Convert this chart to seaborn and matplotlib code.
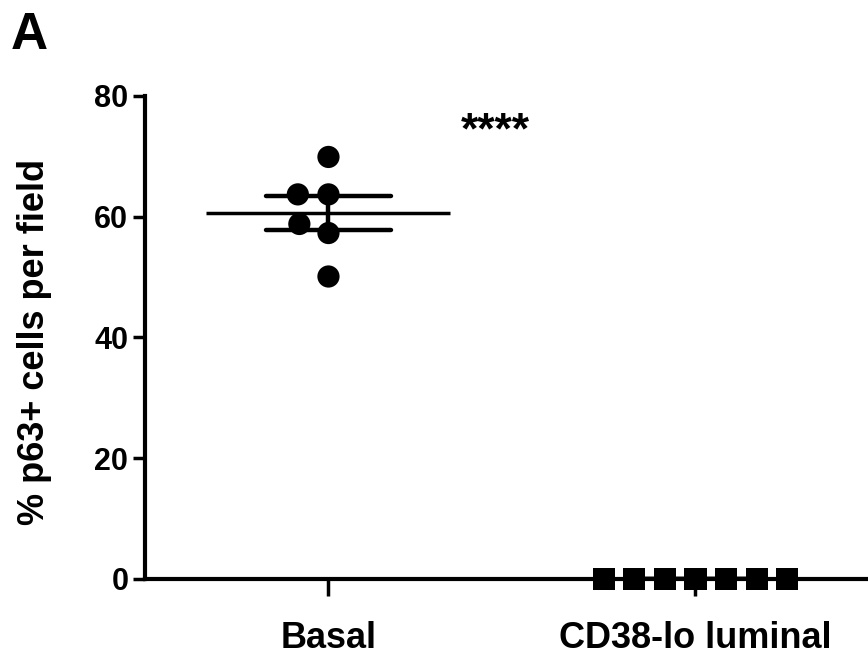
import matplotlib
matplotlib.use("Agg")
import matplotlib.pyplot as plt
import seaborn as sns
import pandas as pd

# values
groups = ["Basal", "CD38-lo luminal"]
basal_vals = [69.9, 63.7, 63.7, 58.8, 57.3, 50.1]
luminal_vals = [0, 0, 0, 0, 0, 0, 0]
y_ticks = [0, 20, 40, 60, 80]
y_label = "% p63+ cells per field"
signif = "****"
panel = "A"

df = pd.DataFrame({
    "group": [groups[0]] * len(basal_vals) + [groups[1]] * len(luminal_vals),
    "value": basal_vals + luminal_vals,
})

sns.set_style("ticks")
plt.rcParams["font.family"] = ["Liberation Sans", "DejaVu Sans"]
plt.rcParams["font.weight"] = "bold"
for key in ["text.color", "axes.edgecolor", "axes.labelcolor", "xtick.color", "ytick.color"]:
    plt.rcParams[key] = "black"

fig = plt.figure(figsize=(8.68, 6.56), dpi=100)
ax = fig.add_axes([0.167, 0.1174, 0.833, 0.7363])

# scatter of individual values, circles for basal, squares for luminal
sns.swarmplot(data=df[df["group"] == groups[0]], x="group", y="value", order=groups,
              marker="o", size=16, color="black", edgecolor="none", linewidth=5,
              clip_on=False, ax=ax)
sns.swarmplot(data=df[df["group"] == groups[1]], x="group", y="value", order=groups,
              marker="s", size=16, color="black", edgecolor="none", linewidth=5,
              clip_on=False, ax=ax)
# drop empty point sets left by the category that has no data in each call
for coll in list(ax.collections):
    if len(coll.get_offsets()) == 0:
        coll.remove()

# mean line with SEM error bars
sns.pointplot(data=df, x="group", y="value", order=groups, errorbar="se",
              capsize=0.34, color="black", marker="_", markersize=176,
              markeredgewidth=2.5, linestyle="none",
              err_kws={"linewidth": 3.2}, ax=ax)

ax.set_xlim(-0.5, 1.47)
ax.set_ylim(0, 80)
ax.set_yticks(y_ticks)
ax.set_xlabel("")
ax.set_ylabel(y_label, fontsize=26, fontweight="bold")
ax.yaxis.set_label_coords(-0.128, 0.49)

for side in ["top", "right"]:
    ax.spines[side].set_visible(False)
for side in ["left", "bottom"]:
    ax.spines[side].set_linewidth(3)

ax.tick_params(axis="y", labelsize=22, length=9, width=2.5, pad=3)
ax.tick_params(axis="x", labelsize=26, length=12, width=2.5, pad=18)
for lab in ax.get_xticklabels() + ax.get_yticklabels():
    lab.set_fontweight("bold")

ax.text(0.455, 74, signif, ha="center", va="center", fontsize=32, fontweight="bold")
fig.text(0.012, 0.926, panel, ha="left", va="baseline", fontsize=37, fontweight="bold")

fig.savefig("out.png", dpi=100)
